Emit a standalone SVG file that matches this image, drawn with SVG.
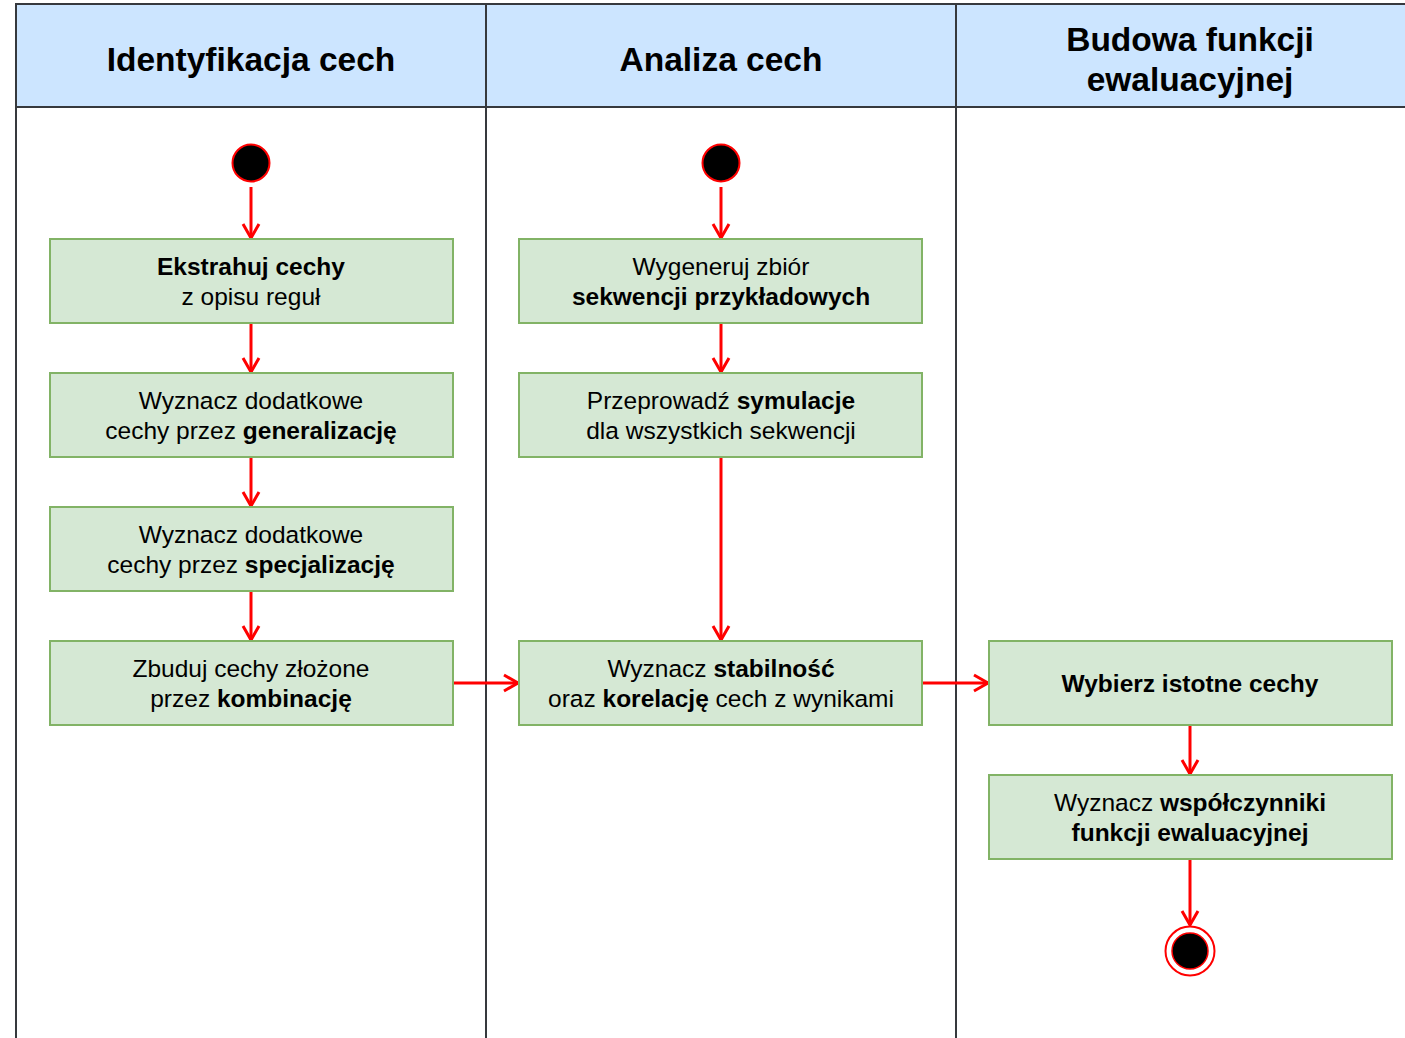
<svg xmlns="http://www.w3.org/2000/svg" width="1405" height="1038" viewBox="0 0 1405 1038">
  <style>
    .lane { fill: #ffffff; stroke: #36393d; stroke-width: 2; }
    .head { fill: #cce5ff; stroke: #36393d; stroke-width: 2; }
    .htxt { font-family: "Liberation Sans", Arial, sans-serif; font-size: 33.5px; font-weight: bold; fill: #000; text-anchor: middle; }
    .box { fill: #d5e8d4; stroke: #82b366; stroke-width: 2; }
    .txt { font-family: "Liberation Sans", Arial, sans-serif; font-size: 24.5px; fill: #000; text-anchor: middle; }
    .b { font-weight: bold; }
    .edge { fill: none; stroke: #ff0000; stroke-width: 3; }
    .start { fill: #000; stroke: #ff0000; stroke-width: 2; }
  </style>
  <defs>
    <marker id="arrow" viewBox="0 0 20 20" refX="17" refY="10" markerWidth="20" markerHeight="20" markerUnits="userSpaceOnUse" orient="auto">
      <path d="M3,2 L17,10 L3,18" fill="none" stroke="#ff0000" stroke-width="3"/>
    </marker>
  </defs>

  <!-- swimlanes -->
  <g id="lanes">
    <rect class="lane" x="16" y="4" width="470" height="1040"/>
    <rect class="lane" x="486" y="4" width="470" height="1040"/>
    <rect class="lane" x="956" y="4" width="460" height="1040"/>
    <rect class="head" x="16" y="4" width="470" height="103"/>
    <rect class="head" x="486" y="4" width="470" height="103"/>
    <rect class="head" x="956" y="4" width="460" height="103"/>
    <text class="htxt" x="251" y="71">Identyfikacja cech</text>
    <text class="htxt" x="721" y="71">Analiza cech</text>
    <text class="htxt" x="1190" y="51">Budowa funkcji</text>
    <text class="htxt" x="1190" y="91">ewaluacyjnej</text>
  </g>

  <!-- connectors -->
  <g id="connectors">
    <line class="edge" x1="251" y1="187" x2="251" y2="238" marker-end="url(#arrow)"/>
    <line class="edge" x1="251" y1="323" x2="251" y2="372" marker-end="url(#arrow)"/>
    <line class="edge" x1="251" y1="457" x2="251" y2="506" marker-end="url(#arrow)"/>
    <line class="edge" x1="251" y1="591" x2="251" y2="640" marker-end="url(#arrow)"/>
    <line class="edge" x1="721" y1="187" x2="721" y2="238" marker-end="url(#arrow)"/>
    <line class="edge" x1="721" y1="323" x2="721" y2="372" marker-end="url(#arrow)"/>
    <line class="edge" x1="721" y1="457" x2="721" y2="640" marker-end="url(#arrow)"/>
    <line class="edge" x1="453" y1="683" x2="518" y2="683" marker-end="url(#arrow)"/>
    <line class="edge" x1="922" y1="683" x2="988" y2="683" marker-end="url(#arrow)"/>
    <line class="edge" x1="1190" y1="725" x2="1190" y2="774" marker-end="url(#arrow)"/>
    <line class="edge" x1="1190" y1="859" x2="1190" y2="925" marker-end="url(#arrow)"/>
  </g>

  <!-- start nodes -->
  <g id="start1"><circle class="start" cx="251" cy="163" r="18.5"/></g>
  <g id="start2"><circle class="start" cx="721" cy="163" r="18.5"/></g>

  <!-- activities: Identyfikacja cech -->
  <g id="ekstrahuj">
    <rect class="box" x="50" y="239" width="403" height="84"/>
    <text class="txt" x="251" y="275"><tspan class="b">Ekstrahuj cechy</tspan></text>
    <text class="txt" x="251" y="305">z opisu reguł</text>
  </g>
  <g id="generalizacja">
    <rect class="box" x="50" y="373" width="403" height="84"/>
    <text class="txt" x="251" y="409">Wyznacz dodatkowe</text>
    <text class="txt" x="251" y="439">cechy przez <tspan class="b">generalizację</tspan></text>
  </g>
  <g id="specjalizacja">
    <rect class="box" x="50" y="507" width="403" height="84"/>
    <text class="txt" x="251" y="543">Wyznacz dodatkowe</text>
    <text class="txt" x="251" y="573">cechy przez <tspan class="b">specjalizację</tspan></text>
  </g>
  <g id="kombinacja">
    <rect class="box" x="50" y="641" width="403" height="84"/>
    <text class="txt" x="251" y="677">Zbuduj cechy złożone</text>
    <text class="txt" x="251" y="707">przez <tspan class="b">kombinację</tspan></text>
  </g>

  <!-- activities: Analiza cech -->
  <g id="sekwencje">
    <rect class="box" x="519" y="239" width="403" height="84"/>
    <text class="txt" x="721" y="275">Wygeneruj zbiór</text>
    <text class="txt" x="721" y="305"><tspan class="b">sekwencji przykładowych</tspan></text>
  </g>
  <g id="symulacje">
    <rect class="box" x="519" y="373" width="403" height="84"/>
    <text class="txt" x="721" y="409">Przeprowadź <tspan class="b">symulacje</tspan></text>
    <text class="txt" x="721" y="439">dla wszystkich sekwencji</text>
  </g>
  <g id="stabilnosc">
    <rect class="box" x="519" y="641" width="403" height="84"/>
    <text class="txt" x="721" y="677">Wyznacz <tspan class="b">stabilność</tspan></text>
    <text class="txt" x="721" y="707">oraz <tspan class="b">korelację</tspan> cech z wynikami</text>
  </g>

  <!-- activities: Budowa funkcji ewaluacyjnej -->
  <g id="wybierz">
    <rect class="box" x="989" y="641" width="403" height="84"/>
    <text class="txt b" x="1190" y="692">Wybierz istotne cechy</text>
  </g>
  <g id="wspolczynniki">
    <rect class="box" x="989" y="775" width="403" height="84"/>
    <text class="txt" x="1190" y="811">Wyznacz <tspan class="b">współczynniki</tspan></text>
    <text class="txt b" x="1190" y="841">funkcji ewaluacyjnej</text>
  </g>

  <!-- end node -->
  <g id="end">
    <circle cx="1190" cy="951" r="24.5" fill="#ffffff" stroke="#ff0000" stroke-width="2"/>
    <circle cx="1190" cy="951" r="18" fill="#000" stroke="#ff0000" stroke-width="1.5"/>
  </g>
</svg>
